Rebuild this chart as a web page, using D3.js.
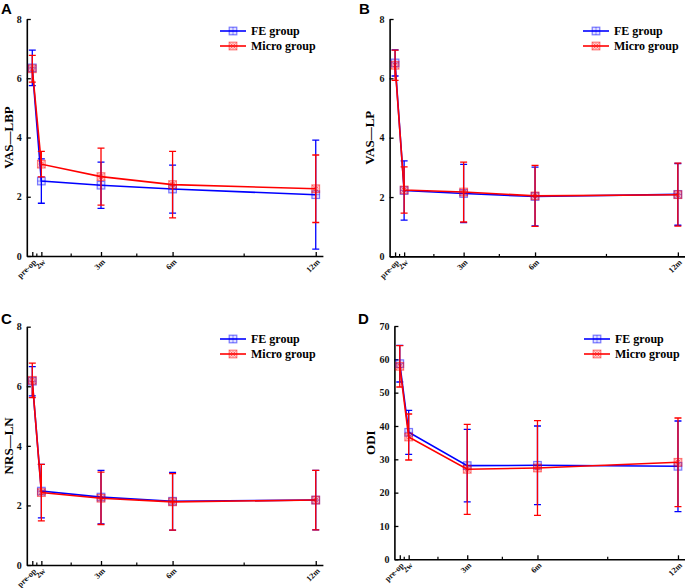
<!DOCTYPE html>
<html><head><meta charset="utf-8">
<script src="https://cdn.jsdelivr.net/npm/d3@7"></script>
<style>
body{margin:0;background:#fff;}
svg{display:block;}
text{font-family:"Liberation Serif","Times New Roman",serif;font-weight:bold;}
</style></head>
<body><svg id="c" width="685" height="588"></svg>
<script>
// ---- data ----
const timeLabels = ["pre-op","2w","3m","6m","12m"];
const timeValues = [0.12, 0.5, 3, 6, 12]; // months
const seriesNames = ["FE group","Micro group"];

const vasLbpFE     = [6.35, 2.53, 2.39, 2.26, 2.07];
const vasLbpFEsd   = [0.60, 0.75, 0.78, 0.81, 1.84];
const vasLbpMicro  = [6.32, 3.10, 2.68, 2.41, 2.27];
const vasLbpMicroSd= [0.45, 0.43, 0.96, 1.12, 1.14];

const vasLpFE      = [6.52, 2.22, 2.12, 2.02, 2.09];
const vasLpFEsd    = [0.44, 1.00, 0.98, 0.99, 1.04];
const vasLpMicro   = [6.44, 2.24, 2.17, 2.04, 2.08];
const vasLpMicroSd = [0.51, 0.78, 1.01, 1.03, 1.06];

const nrsLnFE      = [6.17, 2.48, 2.28, 2.14, 2.18];
const nrsLnFEsd    = [0.49, 0.90, 0.90, 0.97, 1.00];
const nrsLnMicro   = [6.20, 2.43, 2.24, 2.12, 2.18];
const nrsLnMicroSd = [0.58, 0.95, 0.88, 0.95, 1.00];

const odiFE        = [58.7, 38.1, 28.1, 28.2, 27.9];
const odiFEsd      = [5.5, 6.6, 10.9, 11.8, 13.6];
const odiMicro     = [57.9, 36.7, 27.0, 27.4, 29.1];
const odiMicroSd   = [6.2, 6.9, 13.5, 14.2, 13.3];

const vasTicks = [0, 2, 4, 6, 8];
const odiTicks = [0, 10, 20, 30, 40, 50, 60, 70];

// ---- layout ----
const colors = ["#0000ff", "#ff0000"];
const panels = [
  {label:"A", title:"VAS\u2014LBP", ticks:vasTicks, yMax:8, fe:vasLbpFE, feSd:vasLbpFEsd, mi:vasLbpMicro, miSd:vasLbpMicroSd,
   xr:[26.8,322.9], yr:[256,19], labX:1, labY:13.5, titleX:8.5, legX:220, legY:31},
  {label:"B", title:"VAS\u2014LP", ticks:vasTicks, yMax:8, fe:vasLpFE, feSd:vasLpFEsd, mi:vasLpMicro, miSd:vasLpMicroSd,
   xr:[389.6,685], yr:[256.4,19], labX:359, labY:13.5, titleX:369.5, legX:583, legY:31},
  {label:"C", title:"NRS\u2014LN", ticks:vasTicks, yMax:8, fe:nrsLnFE, feSd:nrsLnFEsd, mi:nrsLnMicro, miSd:nrsLnMicroSd,
   xr:[26.8,322.9], yr:[565,326.7], labX:1, labY:324, titleX:8.5, legX:220, legY:339},
  {label:"D", title:"ODI", ticks:odiTicks, yMax:70, fe:odiFE, feSd:odiFEsd, mi:odiMicro, miSd:odiMicroSd,
   xr:[394.4,685], yr:[559.3,326], labX:358, labY:324, titleX:370.5, legX:584, legY:339}
];

const svg = d3.select("#c");

function marker(g, i, x, y){
  const s = 3.8, c = colors[i];
  const m = g.append("g").attr("transform", `translate(${x},${y})`);
  m.append("rect").attr("x",-s).attr("y",-s).attr("width",2*s).attr("height",2*s)
    .attr("fill", c).attr("fill-opacity",0.12).attr("stroke", c).attr("stroke-opacity",0.5).attr("stroke-width",1.2);
  if(i===0){
    m.append("path").attr("d",`M${-s},0H${s}M0,${-s}V${s}`).attr("stroke",c).attr("stroke-opacity",0.45).attr("stroke-width",0.9);
  } else {
    m.append("path").attr("d",`M${-s},${-s}L${s},${s}M${s},${-s}L${-s},${s}`).attr("stroke",c).attr("stroke-opacity",0.4).attr("stroke-width",0.8);
    m.append("circle").attr("r",s*0.6).attr("fill","none").attr("stroke",c).attr("stroke-opacity",0.45).attr("stroke-width",0.9);
  }
}

panels.forEach(p => {
  const x = d3.scaleLinear().domain([-0.11, 12.3]).range(p.xr);
  const y = d3.scaleLinear().domain([0, p.yMax]).range(p.yr);
  const g = svg.append("g");

  // axes
  const xAxis = d3.axisBottom(x).tickValues(timeValues).tickFormat((d,i)=>timeLabels[i]).tickSizeInner(-4).tickSizeOuter(0);
  const gx = g.append("g").attr("transform",`translate(0,${p.yr[0]})`).call(xAxis);
  gx.select(".domain").attr("stroke","#000").attr("stroke-width",1.6);
  gx.selectAll(".tick line").attr("stroke","#000").attr("stroke-width",1.3);
  gx.selectAll(".tick text").attr("font-size",8.2).attr("fill","#111")
    .attr("text-anchor","end").attr("x",0).attr("y",0).attr("dy",0)
    .attr("transform","translate(4,6.5) rotate(-45)");
  // minor x ticks
  const mids = d3.pairs(timeValues).map(([a,b])=>(a+b)/2);
  g.append("g").selectAll("line").data(mids).join("line")
    .attr("x1",d=>x(d)).attr("x2",d=>x(d)).attr("y1",p.yr[0]).attr("y2",p.yr[0]-2.5)
    .attr("stroke","#000").attr("stroke-width",1.2);

  const yAxis = d3.axisLeft(y).tickValues(p.ticks).tickSizeInner(-4).tickSizeOuter(0).tickPadding(5);
  const gy = g.append("g").attr("transform",`translate(${p.xr[0]},0)`).call(yAxis);
  gy.select(".domain").attr("stroke","#000").attr("stroke-width",1.6);
  gy.selectAll(".tick line").attr("stroke","#000").attr("stroke-width",1.3);
  gy.selectAll(".tick text").attr("font-size",10).attr("fill","#111");

  // y title
  g.append("text").attr("transform",`translate(${p.titleX},${(p.yr[0]+p.yr[1])/2}) rotate(-90)`)
    .attr("text-anchor","middle").attr("dy","0.35em").attr("font-size",13).text(p.title);
  // panel label
  g.append("text").attr("x",p.labX).attr("y",p.labY).attr("font-size",15)
    .style("font-family","'Liberation Sans',Arial,sans-serif").text(p.label);

  const series = [[p.fe,p.feSd],[p.mi,p.miSd]];
  series.forEach(([vals,sds], i) => {
    const c = colors[i];
    const sg = g.append("g");
    const line = d3.line().x((d,k)=>x(timeValues[k])).y(d=>y(d));
    // error bars
    vals.forEach((v,k)=>{
      const cx = x(timeValues[k]), t = y(v+sds[k]), b = y(v-sds[k]);
      sg.append("path").attr("d",`M${cx},${t}V${b}M${cx-3.5},${t}H${cx+3.5}M${cx-3.5},${b}H${cx+3.5}`)
        .attr("stroke",c).attr("stroke-width",1.3).attr("fill","none");
    });
    sg.append("path").datum(vals).attr("d",line).attr("fill","none").attr("stroke",c).attr("stroke-width",1.6);
    vals.forEach((v,k)=>marker(sg, i, x(timeValues[k]), y(v)));
  });

  // legend
  seriesNames.forEach((name,i)=>{
    const ly = p.legY + i*15;
    g.append("line").attr("x1",p.legX).attr("x2",p.legX+26).attr("y1",ly).attr("y2",ly)
      .attr("stroke",colors[i]).attr("stroke-width",1.6);
    marker(g, i, p.legX+13, ly);
    g.append("text").attr("x",p.legX+31).attr("y",ly).attr("dy","0.35em").attr("font-size",12).text(name);
  });
});
</script></body></html>
